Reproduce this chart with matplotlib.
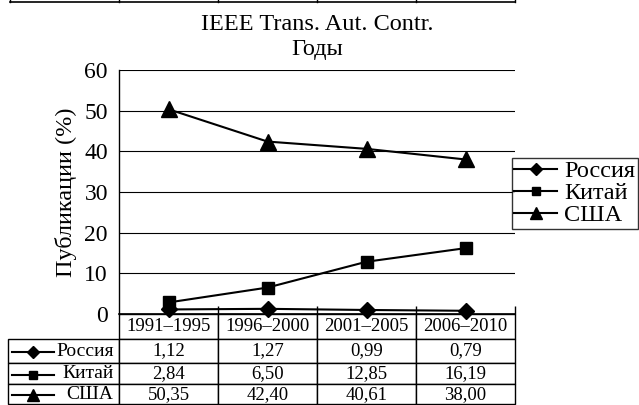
import matplotlib
matplotlib.use("Agg")
import matplotlib.pyplot as plt
from matplotlib.table import Table
from matplotlib.lines import Line2D

plt.rcParams["font.family"] = ["Liberation Serif", "DejaVu Serif"]

periods = ["1991–1995", "1996–2000", "2001–2005", "2006–2010"]
countries = ["Россия", "Китай", "США"]
markers = ["D", "s", "^"]
russia = [1.12, 1.27, 0.99, 0.79]
china = [2.84, 6.50, 12.85, 16.19]
usa = [50.35, 42.40, 40.61, 38.00]
series = [russia, china, usa]

W, H = 639, 405
fig = plt.figure(figsize=(W / 100, H / 100), dpi=100)

# plot area in pixels: x 119..515, y 70..314
L, R, T, B = 119, 515, 70, 314
ax = fig.add_axes([L / W, 1 - B / H, (R - L) / W, (B - T) / H])

x = list(range(len(periods)))
msizes = [7.8, 8, 11]
for vals, name, m, ms in zip(series, countries, markers, msizes):
    ax.plot(x, vals, color="black", lw=1.5, marker=m, ms=ms, label=name,
            clip_on=False, zorder=3)

ax.set_xlim(-0.5, len(periods) - 0.5)
ax.set_ylim(0, 60)
ax.set_yticks(range(0, 61, 10))
ax.tick_params(axis="y", length=0, pad=8, labelsize=17)
ax.set_xticks([])
ax.set_xticks([i + 0.5 for i in x], minor=True)
ax.tick_params(axis="x", which="minor", direction="in", length=6, width=1, color="black")
ax.yaxis.grid(True, color="black", lw=0.8)
ax.set_axisbelow(True)
for s in ["top", "right"]:
    ax.spines[s].set_visible(False)
ax.spines["left"].set_linewidth(1)
ax.spines["bottom"].set_linewidth(1.2)
ax.set_ylabel("Публикации (%)", fontsize=17.5, labelpad=5)

leg = ax.legend(loc="upper left", bbox_to_anchor=((512 - L) / (R - L), (B - 158) / (B - T)),
                borderaxespad=0, fontsize=17.5, handlelength=1.75, handletextpad=0.3,
                labelspacing=0.0, borderpad=0.1, fancybox=False, frameon=True,
                markerscale=0.75)
leg.get_frame().set_edgecolor("black")
leg.get_frame().set_linewidth(1)

fig.text((L + R) / 2 / W, 1 - 24 / H, "IEEE Trans. Aut. Contr.", ha="center", va="center", fontsize=17.5)
fig.text((L + R) / 2 / W, 1 - 50 / H, "Годы", ha="center", va="center", fontsize=17.5)

# data table under the axis
TL, TB = 8, 404
tbl = Table(ax, bbox=[(TL - L) / (R - L), -(TB - B) / (B - T), (R - TL) / (R - L), (TB - B) / (B - T)])
label_w, col_w = 111, 99
row_h = [25, 25, 21, 20]
tbl.add_cell(0, 0, width=label_w, height=row_h[0], text="", loc="right").visible_edges = ""
for j, p in enumerate(periods):
    tbl.add_cell(0, j + 1, width=col_w, height=row_h[0], text=p, loc="center")
for i, (name, vals) in enumerate(zip(countries, series)):
    c = tbl.add_cell(i + 1, 0, width=label_w, height=row_h[i + 1], text=name, loc="right")
    c.PAD = 0.05
    for j, v in enumerate(vals):
        tbl.add_cell(i + 1, j + 1, width=col_w, height=row_h[i + 1],
                     text=f"{v:.2f}".replace(".", ","), loc="center")
tbl.auto_set_font_size(False)
tbl.set_fontsize(13.5)
for (r, cidx), cell in tbl.get_celld().items():
    cell.set_linewidth(1)
    cell.set_edgecolor("black")
    if cidx == 0:
        cell.get_text().set_fontsize(14)
ax.add_table(tbl)

# small line+marker symbols in the row label cells
tops = [B + sum(row_h[:i + 1]) for i in range(len(countries))]
for i, (m, ms) in enumerate(zip(markers, msizes)):
    yc = 1 - (tops[i] + row_h[i + 1] / 2) / H
    fig.add_artist(Line2D([12 / W, 54 / W], [yc, yc], color="black", lw=1.5))
    fig.add_artist(Line2D([33 / W], [yc], color="black", marker=m, ms=ms * 0.8, ls="none"))

# stub of the table above (cut off at the top edge)
fig.add_artist(Line2D([10 / W, R / W], [1 - 2 / H, 1 - 2 / H], color="black", lw=1.2))
for xe in [10, L, L + col_w, L + 2 * col_w, L + 3 * col_w, R]:
    fig.add_artist(Line2D([xe / W, xe / W], [1 - 2 / H, 1], color="black", lw=1))

fig.savefig("out.png", dpi=100)
